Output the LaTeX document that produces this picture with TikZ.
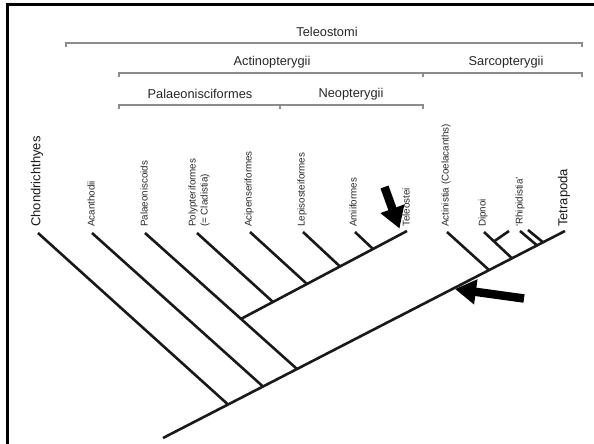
\documentclass[tikz,border=0pt]{standalone}
\usepackage{fontspec}
\setmainfont{Liberation Sans}
\usetikzlibrary{arrows.meta, positioning}

\begin{document}
\begin{tikzpicture}[
    x=1pt, y=-1pt,
    taxon/.style={rotate=90, anchor=west, inner sep=0pt, text=black!85, font=\fontsize{9.8}{12}\selectfont},
    bigtaxon/.style={taxon, text=black!90, font=\fontsize{13}{15}\selectfont},
    clade/.style={inner sep=0pt, text=black!85, font=\fontsize{12.8}{14}\selectfont},
    bracket/.style={draw=black!45, line width=1.1pt},
    branch/.style={line width=2.6pt, black!90},
    pointer/.style={line width=8.5pt, -{Triangle[width=24pt, length=21pt]}, black}
]
    \useasboundingbox (0,0) rectangle (594,444);
    \draw[line width=2.8pt] (7.5,444) |- (594,4.5);

    % clade names and brackets
    \node[clade] (teleostomi) at (327,32) {Teleostomi};
    \node[clade] (actino) at (272,62) {Actinopterygii};
    \node[clade] (sarco) at (506,62) {Sarcopterygii};
    \node[clade] (palaeo) at (200,94) {Palaeonisciformes};
    \node[clade] (neo) at (351,94) {Neopterygii};

    \draw[bracket] (66,47) |- (582,43) -- (582,47);
    \draw[bracket] (119,77) |- (582,73) -- (582,77);
    \draw[bracket] (423,73) -- (423,77);
    \draw[bracket] (119,109) |- (423,105) -- (423,109);
    \draw[bracket] (280,105) -- (280,109);

    % tips
    \coordinate (chonT) at (38,233);
    \coordinate (acanT) at (92,233);
    \coordinate (palT)  at (145,233);
    \coordinate (polyT) at (197,233);
    \coordinate (aciT)  at (250,232);
    \coordinate (lepT)  at (303,232);
    \coordinate (amiT)  at (355,232);
    \coordinate (teleT) at (407,231);
    \coordinate (actiT) at (447,232);
    \coordinate (dipT)  at (484,232);
    \coordinate (dipB)  at (509,231);
    \coordinate (rhiTa) at (520,231);
    \coordinate (rhiTb) at (528,230);
    \coordinate (tetraT) at (565,231);

    \node[bigtaxon] (chon) at (37,227) {Chondrichthyes};
    \node[taxon] (acan) at (91,227) {Acanthodii};
    \node[taxon] (pal)  at (144,227) {Palaeoniscoids};
    \node[taxon, align=left] (poly) at (199,227) {Polypteriformes\\(= Cladistia)};
    \node[taxon] (aci)  at (249,227) {Acipenseriformes};
    \node[taxon] (lep)  at (302,227) {Lepisosteiformes};
    \node[taxon] (ami)  at (353,227) {Amiiformes};
    \node[taxon] (tele) at (406,227) {Teleostei};
    \node[taxon] (acti) at (446,227) {Actinistia (Coelacanths)};
    \node[taxon] (dip)  at (483,227) {Dipnoi};
    \node[taxon] (rhi)  at (520,227) {‘Rhipidistia’};
    \node[bigtaxon] (tetra) at (564,227) {Tetrapoda};

    % junctions
    \coordinate (root)   at (163,438);
    \coordinate (chonJ)  at (228,404.5);
    \coordinate (acanJ)  at (263,386.5);
    \coordinate (palJ)   at (297,369);
    \coordinate (crownJ) at (241,318.9);
    \coordinate (polyJ)  at (273,302);
    \coordinate (aciJ)   at (307,284);
    \coordinate (lepJ)   at (340,266.5);
    \coordinate (amiJ)   at (373,249);
    \coordinate (actiJ)  at (489,270);
    \coordinate (dipJ)   at (512,258.3);
    \coordinate (dipA)   at (494,241.4);
    \coordinate (rhiJa)  at (537,245.4);
    \coordinate (rhiJb)  at (543,242.3);

    \draw[branch] (root) -- (tetraT);
    \draw[branch] (chonT) -- (chonJ);
    \draw[branch] (acanT) -- (acanJ);
    \draw[branch] (palT) -- (palJ);
    \draw[branch] (crownJ) -- (teleT);
    \draw[branch] (polyT) -- (polyJ);
    \draw[branch] (aciT) -- (aciJ);
    \draw[branch] (lepT) -- (lepJ);
    \draw[branch] (amiT) -- (amiJ);
    \draw[branch] (actiT) -- (actiJ);
    \draw[branch] (dipT) -- (dipJ);
    \draw[branch] (dipA) -- (dipB);
    \draw[branch] (rhiTa) -- (rhiJa);
    \draw[branch] (rhiTb) -- (rhiJb);

    % arrows
    \coordinate (teleTail) at (384.5,187);
    \coordinate (teleHead) at (399.5,228.5);
    \coordinate (spineTail) at (524,298.5);
    \coordinate (spineHead) at (455,289);
    \draw[pointer] (teleTail) -- (teleHead);
    \draw[pointer] (spineTail) -- (spineHead);
\end{tikzpicture}
\end{document}
